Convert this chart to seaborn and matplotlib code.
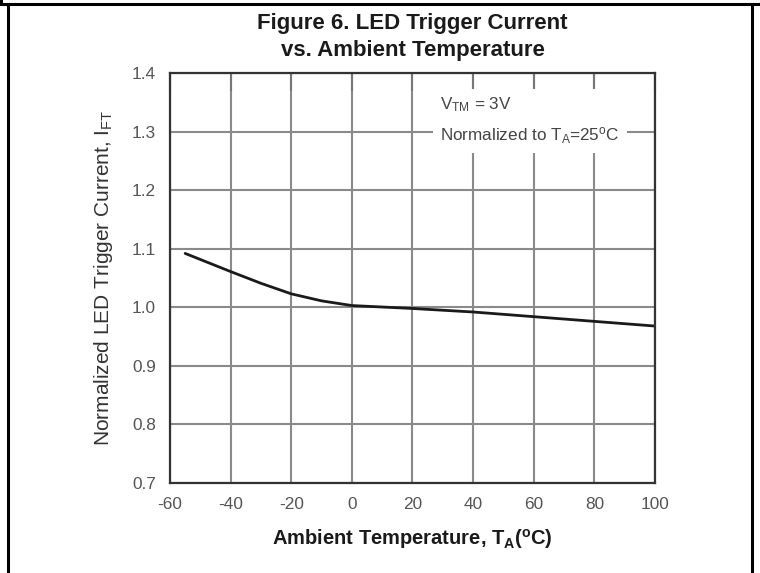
import seaborn as sns
import pandas as pd
import numpy as np
import matplotlib.pyplot as plt
from matplotlib.lines import Line2D

# values
temp_c=[-55,-40,-30,-20,-10,0,20,40,60,80,100]
ift_norm=[1.092,1.061,1.041,1.023,1.011,1.003,0.998,0.992,0.984,0.976,0.968]

x_ticks=[-60,-40,-20,0,20,40,60,80,100]
y_ticks=[0.7,0.8,0.9,1.0,1.1,1.2,1.3,1.4]

sns.set_style('white')
plt.rcParams['font.family']=['Liberation Sans','DejaVu Sans']
plt.rcParams['mathtext.fontset']='custom'
plt.rcParams['mathtext.rm']='Liberation Sans'
plt.rcParams['mathtext.it']='Liberation Sans'
plt.rcParams['mathtext.bf']='Liberation Sans:bold'

df=pd.DataFrame({'temp':temp_c,'ift':ift_norm})

fig=plt.figure(figsize=(7.6,5.73),dpi=100)
ax=fig.add_axes([0.2237,0.157,0.8618-0.2237,0.8726-0.157])

sns.lineplot(data=df,x='temp',y='ift',ax=ax,color='#1a1a1a',linewidth=2)

ax.set_xlim(-60,100)
ax.set_ylim(0.7,1.4)
ax.set_xticks(x_ticks)
ax.set_yticks(y_ticks)
ax.set_xticklabels([str(t) for t in x_ticks])
ax.set_yticklabels(['%.1f'%t for t in y_ticks])
ax.grid(True,color='#8a8a8a',linewidth=1.5)
ax.set_axisbelow(True)
for s in ax.spines.values():
    s.set_color('#333333')
    s.set_linewidth(1.6)
ax.tick_params(axis='x',direction='out',length=8,width=1.5,color='#333333',labelsize=12.4,labelcolor='#555555',pad=10)
ax.tick_params(axis='y',direction='out',length=5,width=1.5,color='#333333',labelsize=12.4,labelcolor='#555555',pad=5)
ax.tick_params(top=True,direction='in',which='major',axis='x',length=13,width=1.5,color='#777777')

ax.set_xlabel('Ambient Temperature, T$_\\mathbf{A}$($^\\mathbf{o}$C)',fontsize=14.5,fontweight='bold',color='#1a1a1a',labelpad=11)
ax.set_ylabel('Normalized LED Trigger Current, I$_{FT}$',fontsize=15,color='#333333',labelpad=12)

ax.text(0.557,0.945,'V$_{TM}$ = 3V\nNormalized to T$_A$=25$^o$C',transform=ax.transAxes,
        ha='left',va='top',fontsize=12.3,color='#444444',linespacing=1.75,
        bbox=dict(facecolor='white',edgecolor='none',pad=5),zorder=3)

fig.text(0.543,0.935,'Figure 6. LED Trigger Current\nvs. Ambient Temperature',ha='center',va='center',
         fontsize=16,fontweight='bold',color='#1a1a1a',linespacing=1.35)

# page border around the figure
for xs,ys in [([8/760,8/760],[0,1-4/573]),([0,1],[1-4/573,1-4/573]),([752/760,752/760],[0,1-4/573]),([1/760,1/760],[1-4/573,1])]:
    fig.add_artist(Line2D(xs,ys,color='black',linewidth=2.2,transform=fig.transFigure))

fig.savefig('out.png',dpi=100)
